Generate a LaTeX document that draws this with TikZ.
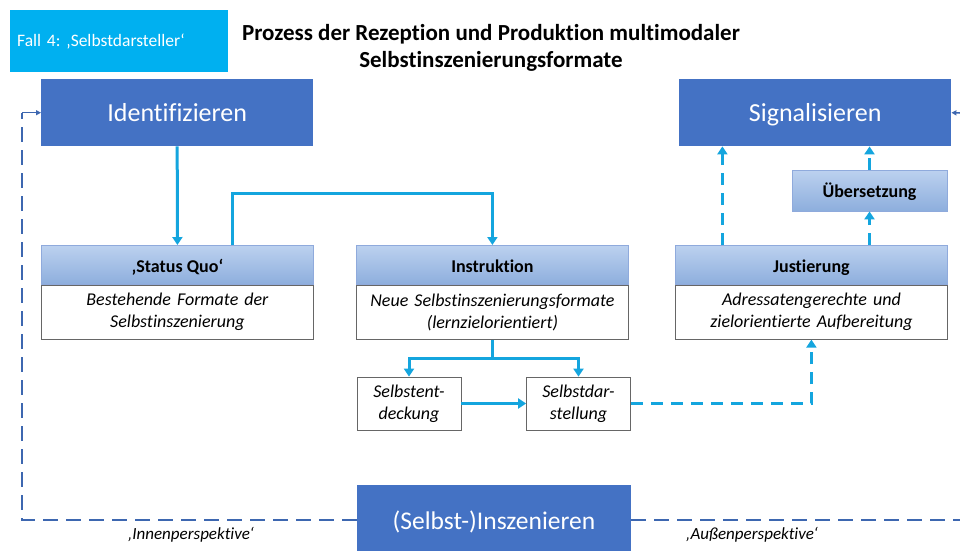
\documentclass[tikz,border=0pt]{standalone}
\usepackage{fontspec}
\setmainfont{Carlito}[Ligatures=NoCommon]
\usetikzlibrary{arrows.meta}
\frenchspacing
\definecolor{darkbox}{HTML}{4472C4}
\definecolor{fallcyan}{HTML}{00B0F0}
\definecolor{flowcyan}{HTML}{14A5DE}
\definecolor{headtop}{HTML}{BCD1EF}
\definecolor{headbot}{HTML}{8DAEDD}
\definecolor{headline}{HTML}{8FAADC}
\tikzset{mainbox/.style={fill=darkbox, text=white, minimum width=272pt, minimum height=67pt, inner sep=0pt, text height=20.5pt, text depth=2.5pt, font=\fontsize{26}{30}\selectfont}}
\tikzset{headbox/.style={top color=headtop, bottom color=headbot, draw=headline, line width=0.8pt, minimum width=272pt, minimum height=39pt, inner sep=0pt, text height=15.5pt, text depth=1pt, font=\fontsize{18}{21}\selectfont\bfseries}}
\tikzset{bodybox/.style={fill=white, draw=gray!80!black, line width=0.8pt, minimum width=272pt, minimum height=54pt, inner sep=0pt, text width=268pt, align=center, font=\fontsize{18}{22}\selectfont\itshape}}
\tikzset{smallbox/.style={fill=white, draw=gray!80!black, line width=0.8pt, minimum width=104pt, minimum height=53pt, inner sep=0pt, align=center, font=\fontsize{18}{22}\selectfont\itshape}}
\tikzset{flow/.style={draw=flowcyan, line width=3pt, -{Triangle[width=10pt,length=8pt]}}}
\tikzset{flowdash/.style={flow, dash pattern=on 12pt off 8pt}}
\tikzset{loopline/.style={draw=darkbox!90!black, line width=2pt, dash pattern=on 15pt off 8pt}}
\tikzset{looptip/.style={draw=darkbox!90!black, line width=1.5pt, -{Triangle[width=5pt,length=5pt]}}}
\tikzset{perspective/.style={font=\fontsize{17}{20}\selectfont\itshape}}

\begin{document}
\begin{tikzpicture}[x=1pt, y=-1pt]
  \useasboundingbox (0,0) rectangle (960,550);
  % heading
  \node[fill=fallcyan, text=white, anchor=north west, minimum height=62pt, text width=204pt, inner xsep=7pt, align=left, font=\fontsize{17.5}{20}\selectfont] (fall) at (10,10) {Fall 4: ‚Selbstdarsteller‘};
  \node[align=center, font=\fontsize{23}{27}\selectfont\bfseries] (title) at (491,48) {Prozess der Rezeption und Produktion multimodaler\\Selbstinszenierungsformate};
  % main steps
  \node[mainbox, anchor=north west] (identify) at (41,79) {Identifizieren};
  \node[mainbox, anchor=north west] (signal) at (679,79) {Signalisieren};
  \node[mainbox, minimum width=274pt, minimum height=70pt, font=\fontsize{25.5}{30}\selectfont] (stage) at (494,520) {(Selbst-)Inszenieren};
  % phases
  \node[headbox, anchor=north west] (sqHead) at (41,245) {‚Status Quo‘};
  \node[bodybox, anchor=north] (sqBody) at (sqHead.south) {Bestehende Formate der\\Selbstinszenierung};
  \node[headbox, anchor=north west] (instHead) at (356,245) {Instruktion};
  \node[bodybox, anchor=north] (instBody) at (instHead.south) {Neue Selbstinszenierungsformate\\(lernzielorientiert)};
  \node[headbox, anchor=north west] (justHead) at (675,245) {Justierung};
  \node[bodybox, anchor=north] (justBody) at (justHead.south) {Adressatengerechte und\\zielorientierte Aufbereitung};
  \node[headbox, minimum width=155pt, minimum height=41pt] (trans) at (869.5,190.5) {Übersetzung};
  \node[smallbox] (discover) at (409,403.5) {Selbstent-\\deckung};
  \node[smallbox] (present) at (578.5,403.5) {Selbstdar-\\stellung};
  % flow
  \draw[flow] (identify.south) -- (sqHead.north);
  \draw[flow] ([xshift=55pt]sqHead.north) |- ([yshift=52pt]instHead.north) -- (instHead.north);
  \draw[flow] (instBody.south) -- ++(0,19) -| (discover.north);
  \draw[flow] (instBody.south) -- ++(0,19) -| (present.north);
  \draw[flow] (discover.east) -- (present.west);
  \draw[flowdash] (present.east) -| (justBody.south);
  \draw[flowdash] ([xshift=-89pt]justHead.north) -- ([xshift=-89pt]justHead.north |- signal.south);
  \draw[flowdash] (justHead.north -| trans.south) -- (trans.south);
  \draw[flowdash] (trans.north) -- (trans.north |- signal.south);
  % perspectives
  \draw[loopline] (stage.west) -| ([xshift=-19pt]identify.west);
  \draw[looptip] ([xshift=-19pt]identify.west) -- (identify.west);
  \draw[loopline] (stage.east) -- (960,520);
  \draw[looptip] (960,113) -- (signal.east);
  \node[perspective] (inner) at (191,535) {‚Innenperspektive‘};
  \node[perspective] (outer) at (752,535) {‚Außenperspektive‘};
\end{tikzpicture}
\end{document}
